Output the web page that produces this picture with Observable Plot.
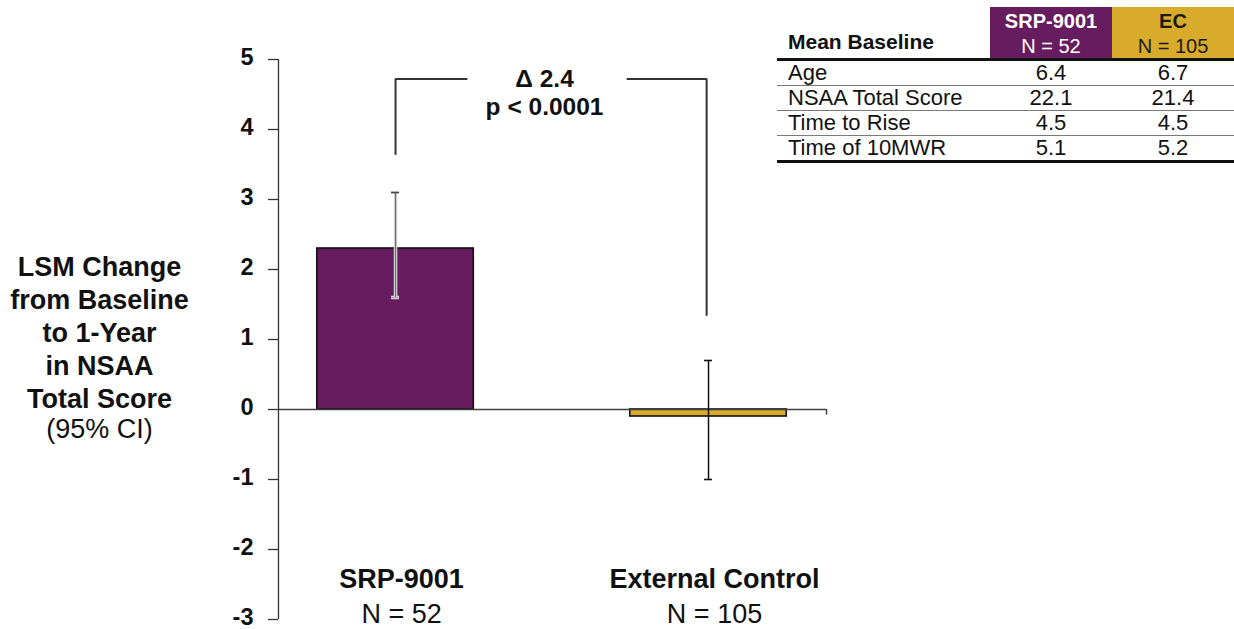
<!DOCTYPE html>
<html>
<head>
<meta charset="utf-8">
<script src="https://cdn.jsdelivr.net/npm/d3@7"></script>
<script src="https://cdn.jsdelivr.net/npm/@observablehq/plot@0.6"></script>
<style>
  html, body { margin: 0; padding: 0; background: #fff; }
  body { font-family: "Liberation Sans", Arial, sans-serif; }
  #wrap { position: relative; width: 1234px; height: 629px; overflow: hidden; }
  #chart { position: absolute; left: 0; top: 0; }
  #tbl { position: absolute; left: 777px; top: 7px; border-collapse: collapse; table-layout: fixed;
         width: 457px; color: #111; font-family: "Liberation Sans", Arial, sans-serif; border-spacing: 0; }
  #tbl td { padding: 0; margin: 0; vertical-align: top; }
  #tbl td > div { box-sizing: border-box; overflow: hidden; white-space: nowrap; }
  #tbl thead td { border-bottom: 3px solid #111; }
  #tbl thead td > div { height: 51px; }
  #tbl .h0 > div { font-weight: bold; font-size: 21px; line-height: 21px; padding: 24px 0 0 11px; }
  #tbl .hc > div { text-align: center; font-size: 20px; line-height: 25px; padding-top: 2px; }
  #tbl .hc b { font-weight: bold; }
  #tbl tbody td { border-bottom: 1.5px solid #7a7a7a; }
  #tbl tbody td > div { height: 24px; font-size: 22px; line-height: 24px; padding-top: 0; }
  #tbl tbody tr:last-child td { border-bottom: 3px solid #111; }
  #tbl tbody td.lab > div { padding-left: 11px; text-align: left; }
  #tbl tbody td.val > div { text-align: center; }
</style>
</head>
<body>
<div id="wrap">
  <div id="chart"></div>
</div>
<script>
// ---- Chart data ----
const groups = ["SRP-9001", "External Control"];
const groupN = ["N = 52", "N = 105"];
const lsmChange = [2.3, -0.1];
const ciLow = [1.6, -1.0];
const ciHigh = [3.1, 0.7];
const barColors = ["#661c5f", "#d9ab2b"];
const yTicks = [-3, -2, -1, 0, 1, 2, 3, 4, 5];
const yLabelBold = "LSM Change\nfrom Baseline\nto 1-Year\nin NSAA\nTotal Score";
const yLabelRegular = "(95% CI)";

// significance bracket (y levels, x in group index units)
const bracketLeft = [{x: 0, y: 3.65}, {x: 0, y: 4.72}, {x: 0.227, y: 4.72}];
const bracketRight = [{x: 0.741, y: 4.72}, {x: 0.994, y: 4.72}, {x: 0.994, y: 1.35}];
const annotationText = "\u0394 2.4\np < 0.0001";
const annotationX = 0.476;
const annotationY = 4.535;

// ---- Table data ----
const tableTitle = "Mean Baseline";
const tableGroups = ["SRP-9001", "EC"];
const tableN = ["N = 52", "N = 105"];
const tableHeaderColors = ["#661c5f", "#d9ab2b"];
const tableHeaderText = ["#ffffff", "#1a1a1a"];
const tableRows = ["Age", "NSAA Total Score", "Time to Rise", "Time of 10MWR"];
const srpBaseline = [6.4, 22.1, 4.5, 5.1];
const ecBaseline = [6.7, 21.4, 4.5, 5.2];

// ---- Build chart ----
const rows = groups.map((g, i) => ({
  i, group: g, n: groupN[i], value: lsmChange[i], lo: ciLow[i], hi: ciHigh[i], color: barColors[i]
}));
const xDomain = [-0.374, 1.377];
const pxPerUnit = 313;           // horizontal pixels per group step
const tickLen = 10 / pxPerUnit;  // y-axis tick length in x units
const halfBar = 0.25;
const cap = 4 / pxPerUnit;
const font = "Liberation Sans, Arial, sans-serif";
const srp = rows.filter(d => d.i === 0);
const ec = rows.filter(d => d.i === 1);

const chart = Plot.plot({
  width: 1234,
  height: 629,
  marginLeft: 278,
  marginRight: 408,
  marginTop: 59,
  marginBottom: 10,
  style: {fontFamily: font, background: "transparent", color: "#111"},
  x: {type: "linear", domain: xDomain, axis: null},
  y: {domain: [-3, 5], axis: null},
  marks: [
    // bars
    Plot.rectY(rows, {x1: d => d.i - halfBar, x2: d => d.i + halfBar, y1: 0, y2: "value",
      fill: "color", stroke: "#111", strokeWidth: 1.6}),
    // zero baseline
    Plot.ruleY([0], {stroke: "#404040", strokeWidth: 1.5}),
    Plot.ruleX([xDomain[1]], {y1: 0, y2: -0.08, stroke: "#404040", strokeWidth: 1.5}),
    // y axis line, ticks and labels
    Plot.ruleX([xDomain[0]], {y1: -3, y2: 5, stroke: "#333", strokeWidth: 1.3}),
    Plot.ruleY(yTicks, {y: d => d, x1: xDomain[0] - tickLen, x2: xDomain[0], stroke: "#333", strokeWidth: 1.3}),
    Plot.text(yTicks, {y: d => d, frameAnchor: "left", text: d => String(d), textAnchor: "end",
      dx: -25, dy: -2, fontSize: 23.5, fontWeight: "bold", fill: "#111", lineAnchor: "middle"}),
    // error bars - SRP (light halo + gray core), EC (black)
    Plot.ruleX(srp, {x: "i", y1: "lo", y2: "hi", stroke: "#e6e6e6", strokeWidth: 3.5}),
    Plot.ruleY(srp, {y: "hi", x1: d => d.i - cap, x2: d => d.i + cap, stroke: "#e6e6e6", strokeWidth: 3.5}),
    Plot.ruleY(srp, {y: "lo", x1: d => d.i - cap, x2: d => d.i + cap, stroke: "#e6e6e6", strokeWidth: 3.5}),
    Plot.ruleX(srp, {x: "i", y1: "lo", y2: "hi", stroke: "#6b6b6b", strokeWidth: 1.4}),
    Plot.ruleY(srp, {y: "hi", x1: d => d.i - cap, x2: d => d.i + cap, stroke: "#444", strokeWidth: 1.6}),
    Plot.ruleY(srp, {y: "lo", x1: d => d.i - cap, x2: d => d.i + cap, stroke: "#aaa", strokeWidth: 1.6}),
    Plot.ruleX(ec, {x: "i", y1: "lo", y2: "hi", stroke: "#111", strokeWidth: 1.5}),
    Plot.ruleY(ec, {y: "hi", x1: d => d.i - cap, x2: d => d.i + cap, stroke: "#111", strokeWidth: 1.6}),
    Plot.ruleY(ec, {y: "lo", x1: d => d.i - cap, x2: d => d.i + cap, stroke: "#111", strokeWidth: 1.6}),
    // bracket
    Plot.line(bracketLeft, {x: "x", y: "y", stroke: "#333", strokeWidth: 2, strokeLinejoin: "miter", curve: "linear"}),
    Plot.line(bracketRight, {x: "x", y: "y", stroke: "#333", strokeWidth: 2, strokeLinejoin: "miter", curve: "linear"}),
    // annotation
    Plot.text([annotationText], {x: annotationX, y: annotationY, text: d => d, textAnchor: "middle",
      fontSize: 24.5, lineHeight: 1.13, fontWeight: "bold", fill: "#111", lineAnchor: "middle"}),
    // category labels
    Plot.text(rows, {x: "i", frameAnchor: "bottom", text: "group", dx: 6, dy: -32, lineAnchor: "bottom",
      fontSize: 27, fontWeight: "bold", fill: "#111"}),
    Plot.text(rows, {x: "i", frameAnchor: "bottom", text: "n", dx: 6, dy: 3, lineAnchor: "bottom",
      fontSize: 27, fontWeight: "normal", fill: "#111"}),
    // y-axis title
    Plot.text([yLabelBold], {frameAnchor: "left", text: d => d, dx: -179, dy: -8.5, lineAnchor: "middle",
      textAnchor: "middle", lineHeight: 1.222, fontSize: 27, fontWeight: "bold", fill: "#111"}),
    Plot.text([yLabelRegular], {frameAnchor: "left", text: d => d, dx: -179, dy: 90, lineAnchor: "middle",
      textAnchor: "middle", fontSize: 27, fontWeight: "normal", fill: "#111"})
  ]
});
document.getElementById("chart").appendChild(chart);

// ---- Build table ----
function cell(cls) {
  const td = document.createElement("td");
  td.className = cls;
  const div = document.createElement("div");
  td.appendChild(div);
  return [td, div];
}
const tbl = document.createElement("table");
tbl.id = "tbl";
const colgroup = document.createElement("colgroup");
[213, 122, 122].forEach(w => { const c = document.createElement("col"); c.style.width = w + "px"; colgroup.appendChild(c); });
tbl.appendChild(colgroup);
const thead = document.createElement("thead");
const htr = document.createElement("tr");
{
  const [td, div] = cell("h0");
  div.textContent = tableTitle;
  htr.appendChild(td);
}
tableGroups.forEach((g, i) => {
  const [td, div] = cell("hc");
  td.style.background = tableHeaderColors[i];
  div.style.color = tableHeaderText[i];
  const b = document.createElement("b"); b.textContent = g;
  div.appendChild(b);
  div.appendChild(document.createElement("br"));
  div.appendChild(document.createTextNode(tableN[i]));
  htr.appendChild(td);
});
thead.appendChild(htr);
tbl.appendChild(thead);
const tbody = document.createElement("tbody");
tableRows.forEach((r, k) => {
  const tr = document.createElement("tr");
  const [a, ad] = cell("lab"); ad.textContent = r; tr.appendChild(a);
  [srpBaseline[k], ecBaseline[k]].forEach(v => {
    const [td, div] = cell("val"); div.textContent = v.toFixed(1); tr.appendChild(td);
  });
  tbody.appendChild(tr);
});
tbl.appendChild(tbody);
document.getElementById("wrap").appendChild(tbl);
</script>
</body>
</html>
